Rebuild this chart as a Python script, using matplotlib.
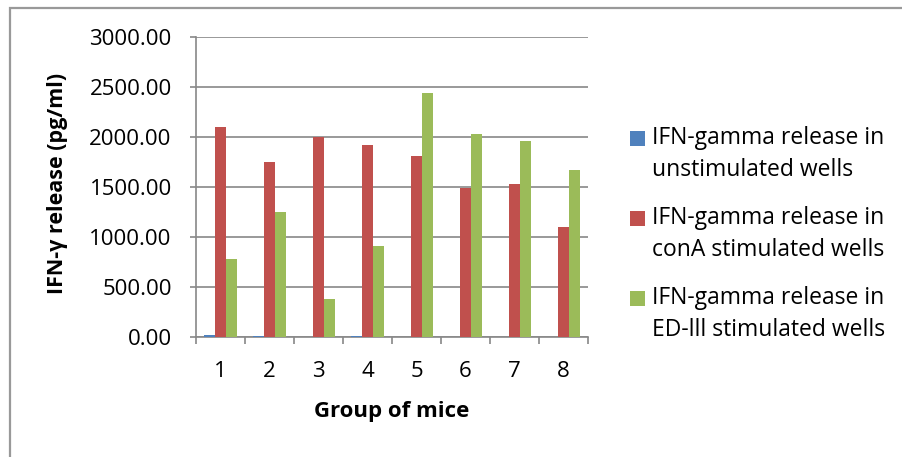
import matplotlib
matplotlib.use("Agg")
import matplotlib.pyplot as plt
import numpy as np
from matplotlib.patches import Rectangle

groups = ["1", "2", "3", "4", "5", "6", "7", "8"]
unstim = [18, 14, 3, 8, 2, 2, 2, 2]
cona = [2100, 1750, 2005, 1925, 1810, 1490, 1530, 1105]
ed3 = [780, 1250, 380, 915, 2445, 2035, 1965, 1675]
series_names = [("IFN-gamma release in", "unstimulated wells"),
                ("IFN-gamma release in", "conA stimulated wells"),
                ("IFN-gamma release in", "ED-lll stimulated wells")]
colors = ["#4F81BD", "#C0504D", "#9BBB59"]
yticks = [0, 500, 1000, 1500, 2000, 2500, 3000]

plt.rcParams['font.family'] = ['Open Sans', 'DejaVu Sans']
W, H = 902, 457
fig = plt.figure(figsize=(W / 100, H / 100), dpi=100)

def fx(px):
    return px / W

def fy(py):
    return 1 - py / H

# chart area border (left and top visible; extends past right/bottom)
fig.patches.append(Rectangle((fx(10), fy(470)), fx(900), 470 / H - 8 / H + 0.0,
                             transform=fig.transFigure, fill=False,
                             edgecolor="#999999", linewidth=1.6))

ax = fig.add_axes([fx(196), fy(337), fx(588 - 196), 300 / H])
x = np.arange(len(groups))
bw = 0.224
for i, (vals, c) in enumerate(zip([unstim, cona, ed3], colors)):
    ax.bar(x + (i - 1) * bw, vals, width=bw, color=c, zorder=3)

ax.set_xlim(-0.5, len(groups) - 0.5)
ax.set_ylim(0, 3000)
ax.set_yticks(yticks)
ax.set_yticklabels([f"{v:.2f}" for v in yticks], fontsize=16)
ax.set_xticks(x)
ax.set_xticklabels(groups, fontsize=16)
ax.tick_params(axis='x', length=0, pad=17)
ax.set_xticks(np.arange(-0.5, len(groups)), minor=True)
ax.tick_params(axis='x', which='minor', length=5, color="#888888", width=1.2)
ax.tick_params(axis='y', length=4.5, color="#888888", width=1.2, direction='out', pad=13)
ax.grid(axis='y', color="#888888", linewidth=1.2, zorder=0)
for s in ["top", "right"]:
    ax.spines[s].set_visible(False)
for s in ["left", "bottom"]:
    ax.spines[s].set_color("#888888")
    ax.spines[s].set_linewidth(1.2)

fig.text(fx(392), fy(411), "Group of mice", fontsize=16, fontweight='bold',
         ha='center', va='center')
fig.text(fx(58), fy(183), "IFN-γ release (pg/ml)", fontsize=15.5, fontweight='bold',
         ha='center', va='center', rotation=90)

# legend
row_y = [138, 218, 298]
for (l1, l2), c, ry in zip(series_names, colors, row_y):
    fig.patches.append(Rectangle((fx(630), fy(ry + 7.5)), 15 / W, 15 / H,
                                 transform=fig.transFigure, facecolor=c, edgecolor='none'))
    fig.text(fx(652), fy(ry), l1, fontsize=16.5, ha='left', va='center')
    fig.text(fx(652), fy(ry + 32), l2, fontsize=16.5, ha='left', va='center')

fig.savefig("out.png", dpi=100)
